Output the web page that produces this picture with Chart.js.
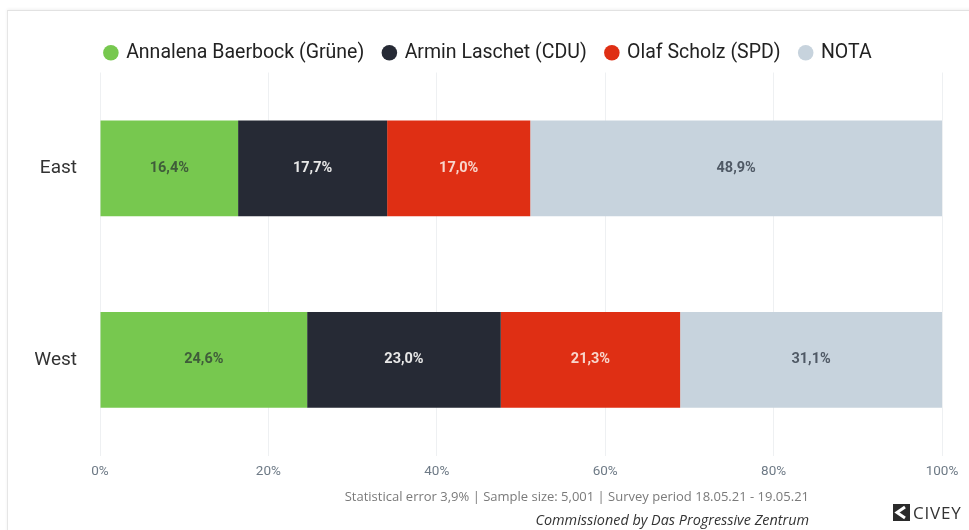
<!DOCTYPE html>
<html>
<head>
<meta charset="utf-8">
<script src="https://cdn.jsdelivr.net/npm/chart.js@4/dist/chart.umd.min.js"></script>
<style>
  html, body { margin: 0; padding: 0; background: #fff; }
  #page { position: relative; width: 969px; height: 530px; overflow: hidden; background: #fff; }
  #card { position: absolute; left: 7px; top: 10px; width: 980px; height: 540px;
          border-left: 1px solid #e6e6e6; border-top: 1px solid #e2e2e2;
          box-shadow: 0 -1px 3px rgba(0,0,0,0.06); }
  #chartBox { position: absolute; left: 0; top: 0; width: 969px; height: 490px; }
  .footer { position: absolute; right: 160px; font-family: "Open Sans", sans-serif; white-space: nowrap; }
  #stats { top: 487px; font-size: 13px; color: #7a7a7a; }
  #commission { top: 510px; font-size: 14.4px; font-style: italic; color: #333; }
  #logo { position: absolute; left: 893px; top: 501px; display: flex; align-items: center;
          font-family: "Open Sans", sans-serif; font-size: 17px; color: #333; letter-spacing: 0.8px; }
  #logo svg { margin-right: 3px; }
</style>
</head>
<body>
<div id="page">
  <div id="card"></div>
  <div id="chartBox"><canvas id="chart"></canvas></div>
  <div class="footer" id="stats">Statistical error 3,9% | Sample size: 5,001 | Survey period 18.05.21 - 19.05.21</div>
  <div class="footer" id="commission">Commissioned by Das Progressive Zentrum</div>
  <div id="logo">
    <svg width="17" height="17" viewBox="0 0 17 17">
      <rect width="17" height="17" fill="#2b2b2b"/>
      <path d="M12 3 L4 8.5 L12 14" stroke="#fff" stroke-width="3" fill="none"/>
    </svg>CIVEY
  </div>
</div>
<script>
const regions = ['East', 'West'];
const seriesNames = ['Annalena Baerbock (Grüne)', 'Armin Laschet (CDU)', 'Olaf Scholz (SPD)', 'NOTA'];
const baerbock = [16.4, 24.6];
const laschet = [17.7, 23.0];
const scholz = [17.0, 21.3];
const nota = [48.9, 31.1];
const xTicks = [0, 20, 40, 60, 80, 100];

const barColors = ['#77c84f', '#262a35', '#df2f14', '#c7d3dd'];
const labelColors = ['#3f5c3a', '#e8e8e8', '#f8d6cc', '#4f5965'];

const valueLabels = {
    id: 'valueLabels',
    afterDatasetsDraw(chart) {
        const ctx = chart.ctx;
        ctx.save();
        ctx.font = 'bold 14.5px Roboto';
        ctx.textAlign = 'center';
        ctx.textBaseline = 'middle';
        chart.data.datasets.forEach((ds, i) => {
            const meta = chart.getDatasetMeta(i);
            meta.data.forEach((bar, j) => {
                const p = bar.getCenterPoint();
                ctx.fillStyle = labelColors[i];
                ctx.fillText(ds.data[j].toFixed(1).replace('.', ',') + '%', p.x, p.y);
            });
        });
        ctx.restore();
    },
};

new Chart(document.getElementById('chart'), {
    type: 'bar',
    data: {
        labels: regions,
        datasets: [baerbock, laschet, scholz, nota].map((data, i) => ({
            label: seriesNames[i],
            data,
            backgroundColor: barColors[i],
            barPercentage: 0.5,
            categoryPercentage: 1,
        })),
    },
    options: {
        indexAxis: 'y',
        responsive: true,
        maintainAspectRatio: false,
        animation: false,
        layout: { padding: { top: 33, left: 35, right: 27, bottom: 0 } },
        scales: {
            x: {
                stacked: true,
                min: 0,
                max: 100,
                afterBuildTicks: (scale) => { scale.ticks = xTicks.map((v) => ({ value: v })); },
                grid: { color: '#eef0f2', drawTicks: false },
                border: { display: false },
                ticks: {
                    padding: 8,
                    color: '#6e7a86',
                    font: { family: 'Roboto', size: 13.5 },
                    callback: (v) => v + '%',
                },
            },
            y: {
                stacked: true,
                afterFit: (scale) => { scale.width = 65; },
                grid: { display: false, drawTicks: false },
                border: { display: false },
                ticks: {
                    padding: 23,
                    color: '#333',
                    font: { family: 'Roboto', size: 19 },
                },
            },
        },
        plugins: {
            legend: {
                labels: {
                    usePointStyle: true,
                    pointStyle: 'circle',
                    boxWidth: 11,
                    boxHeight: 11,
                    padding: 10,
                    color: '#222',
                    font: { family: 'Roboto', size: 19.5 },
                    generateLabels: (chart) => {
                        const items = Chart.defaults.plugins.legend.labels.generateLabels(chart);
                        items.forEach((it, k) => {
                            if (k < items.length - 1) it.text = it.text + '  ';
                        });
                        return items;
                    },
                },
            },
            tooltip: { enabled: false },
        },
    },
    plugins: [valueLabels],
});
</script>
</body>
</html>
